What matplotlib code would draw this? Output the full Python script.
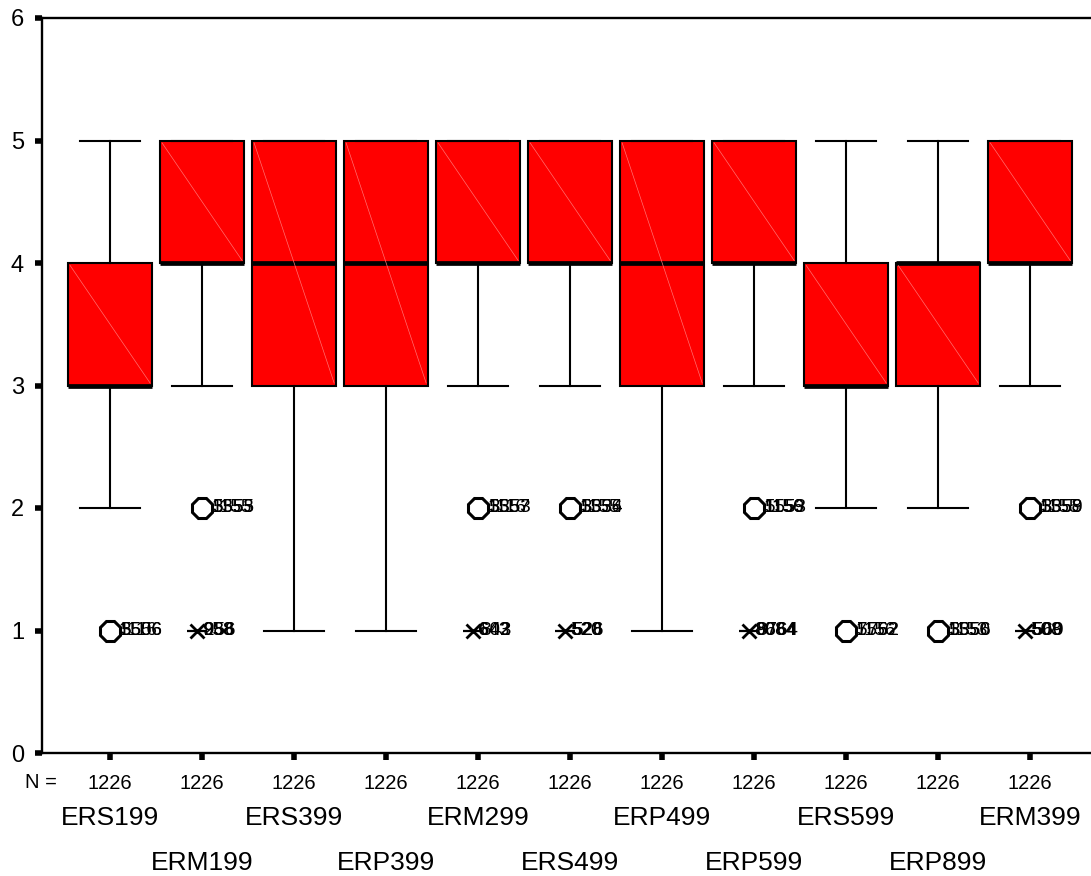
import numpy as np
import matplotlib.pyplot as plt

plt.rcParams['font.family'] = ['Liberation Sans', 'DejaVu Sans']

# box plot summary for each item
variables = ['ERS199', 'ERM199', 'ERS399', 'ERP399', 'ERM299', 'ERS499',
             'ERP499', 'ERP599', 'ERS599', 'ERP899', 'ERM399']
n_cases  = [1226] * 11
q1       = [3, 4, 3, 3, 4, 4, 3, 4, 3, 3, 4]
median   = [3, 4, 4, 4, 4, 4, 4, 4, 3, 4, 4]
q3       = [4, 5, 5, 5, 5, 5, 5, 5, 4, 4, 5]
whisk_lo = [2, 3, 1, 1, 3, 3, 1, 3, 2, 2, 3]
whisk_hi = [5, 5, 5, 5, 5, 5, 5, 5, 5, 5, 5]

# outliers (circles) and extremes (stars): (item index, value, case labels)
outliers = [
    (0, 1, ['1116', '5556', '3506']),
    (1, 2, ['1155', '5555', '3353']),
    (4, 2, ['1116', '5557', '3353']),
    (5, 2, ['1155', '5556', '3334']),
    (7, 2, ['1156', '5553', '1159']),
    (8, 1, ['1156', '5552', '7762']),
    (9, 1, ['1153', '5550', '3356']),
    (10, 2, ['1155', '5558', '3359']),
]
extremes = [
    (1, 1, ['958', '988', '256']),
    (4, 1, ['643', '602', '843']),
    (5, 1, ['520', '528', '526']),
    (7, 1, ['8084', '9664', '8764']),
    (10, 1, ['508', '509', '560']),
]

pos = np.arange(1, len(variables) + 1)
stats = []
for i in range(len(variables)):
    stats.append(dict(med=median[i], q1=q1[i], q3=q3[i],
                      whislo=whisk_lo[i], whishi=whisk_hi[i], fliers=[]))

fig = plt.figure(figsize=(10.91, 8.76), dpi=100)
ax = fig.add_axes([42/1091, 1 - 753/876, 1 - 42/1091, (753 - 18)/876])

bw = 0.91
ax.bxp(stats, positions=pos, widths=bw, capwidths=0.65, patch_artist=True,
       showfliers=False,
       boxprops=dict(facecolor='#ff0000', edgecolor='black', linewidth=1.5),
       medianprops=dict(color='black', linewidth=3.4, solid_capstyle='butt'),
       whiskerprops=dict(color='black', linewidth=1.5),
       capprops=dict(color='black', linewidth=1.5))

# faint shading diagonal in each box
for i, x in enumerate(pos):
    ax.plot([x - bw/2 + 0.02, x + bw/2 - 0.02], [q3[i] - 0.02, q1[i] + 0.02],
            color='#ff7070', lw=0.5, zorder=2.5)

for i, v, labs in outliers:
    ax.plot(pos[i], v, marker='8', ms=16, mfc='white', mec='black', mew=2.2, zorder=4)
    for k, lab in enumerate(labs):
        ax.annotate(lab, (pos[i], v), xytext=(6.5 + 0.6*k, 0), textcoords='offset points',
                    ha='left', va='center', fontsize=13.5, color='black', zorder=5)

for i, v, labs in extremes:
    ax.plot(pos[i] - 0.06, v, marker='x', ms=10, mec='black', mew=2, zorder=4)
    ax.plot(pos[i] - 0.06, v, marker='_', ms=14, mec='black', mew=1.6, zorder=4)
    for k, lab in enumerate(labs):
        ax.annotate(lab, (pos[i], v), xytext=(0.6*k, 0), textcoords='offset points',
                    ha='left', va='center', fontsize=13.5, color='black', zorder=5)

ax.set_xlim(0.26, 11.66)
ax.set_ylim(0, 6)
ax.set_yticks(range(0, 7))
ax.set_yticklabels([str(k) for k in range(0, 7)], fontsize=17)
ax.set_xticks(pos)
ax.set_xticklabels([str(n) for n in n_cases], fontsize=14.5)

ax.spines['right'].set_visible(False)
for s in ['left', 'top', 'bottom']:
    ax.spines[s].set_linewidth(1.7)
ax.tick_params(axis='both', direction='out', length=5, width=4, color='black')
ax.tick_params(axis='x', pad=10)
ax.tick_params(axis='y', pad=8)

fig.text(25/1091, 1 - 782/876, 'N =', ha='left', va='center', fontsize=14.5)

# staggered category names
for i, name in enumerate(variables):
    off = -47 if i % 2 == 0 else -79
    ax.annotate(name, (pos[i], 0), xycoords=('data', 'axes fraction'),
                xytext=(0, off), textcoords='offset points',
                ha='center', va='center', fontsize=19, annotation_clip=False)

fig.savefig('out.png', dpi=100)
